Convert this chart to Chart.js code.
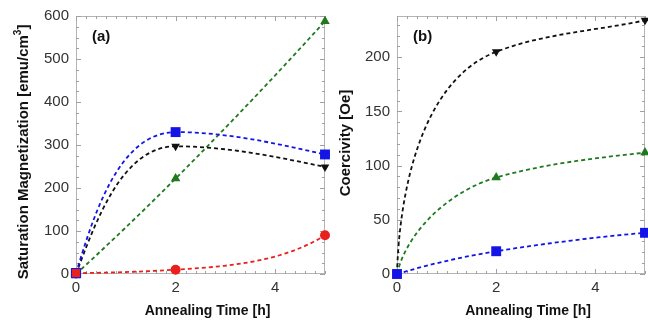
<!DOCTYPE html>
<html><head><meta charset="utf-8">
<script src="https://cdn.jsdelivr.net/npm/chart.js@4"></script>
<style>
html,body{margin:0;padding:0;background:#fff;}
#wrap{position:relative;width:648px;height:325px;overflow:hidden;}
.box{position:absolute;top:0;}
</style></head><body>
<div id="wrap">
<div class="box" style="left:0;width:330px;height:325px"><canvas id="c1" width="330" height="325"></canvas></div>
<div class="box" style="left:330px;width:318px;height:325px"><canvas id="c2" width="318" height="325"></canvas></div>
</div>
<script>
// ---- data ----
const times = [0, 2, 5];
// (a) saturation magnetization [emu/cm3]
const msRed = [2, 10, 90];
const msBlue = [2, 330, 278];
const msBlack = [0, 297, 249];
const msGreen = [0, 222, 588];
// (b) coercivity [Oe]
const hcBlue = [0, 21, 38];
const hcGreen = [0, 89, 112];
const hcBlack = [0, 205, 234];
// tick labels
const xTicks = [0, 2, 4];
const yTicksA = [0, 100, 200, 300, 400, 500, 600];
const yTicksB = [0, 50, 100, 150, 200];
// titles
const xTitle = 'Annealing Time [h]';
const yTitleA = ['Saturation Magnetization [emu/cm', '3', ']'];
const yTitleB = ['Coercivity [Oe]'];

const FONT = "'Liberation Sans', Arial, sans-serif";
const BLUE = '#1414e6', RED = '#e8201e', GREEN = '#1f7a1f', BLACK = '#111111';

function pts(ys){ return times.map((t,i)=>({x:t, y:ys[i]})); }
// bendStart / bendEnd: curvature style of the smoothed line at its ends
function ds(ys, color, style, radius, rot, bendStart, bendEnd){
  return {
    data: pts(ys), borderColor: color, backgroundColor: color,
    borderWidth: 1.8, borderDash: [4,3], tension: 0.4,
    pointStyle: style, pointRadius: radius, pointHoverRadius: radius,
    pointRotation: rot, pointBorderWidth: 0, pointBorderColor: color,
    clip: false, bendStart, bendEnd
  };
}

// smooth curve: bezier handles computed from the plotted points (pixel space)
const smoothCurves = {
  id: 'smoothCurves',
  beforeDatasetDraw(chart, args){
    const meta = args.meta, line = meta.dataset;
    if (!line) return;
    const dset = chart.data.datasets[args.index];
    line.updateControlPoints(chart.chartArea, meta.iScale.axis);
    const p = meta.data, n = p.length;
    if (n < 3) return;
    const slope = [], ang = [];
    for (let i=0;i<n-1;i++){
      const dx = p[i+1].x - p[i].x, dy = p[i].y - p[i+1].y;
      slope[i] = dy/dx; ang[i] = Math.atan2(dy, dx);
    }
    const th = new Array(n);
    for (let i=1;i<n-1;i++){
      const a = slope[i-1], b = slope[i];
      th[i] = (a*b <= 0) ? 0 : Math.atan(2*a*b/(a+b));
    }
    const clamp = (v, c) => c >= 0 ? Math.min(Math.max(v, 0), Math.PI/2) : Math.max(Math.min(v, 0), -Math.PI/2);
    const ks = dset.bendStart ?? 1, ke = dset.bendEnd ?? 1;
    th[0] = clamp(ang[0] + ks*(ang[0] - th[1]), ang[0]);
    th[n-1] = clamp(ang[n-2] + ke*(ang[n-2] - th[n-2]), ang[n-2]);
    for (let i=0;i<n-1;i++){
      const L = Math.hypot(p[i+1].x - p[i].x, p[i+1].y - p[i].y)/3;
      p[i].cp2x = p[i].x + L*Math.cos(th[i]);
      p[i].cp2y = p[i].y - L*Math.sin(th[i]);
      p[i+1].cp1x = p[i+1].x - L*Math.cos(th[i+1]);
      p[i+1].cp1y = p[i+1].y + L*Math.sin(th[i+1]);
    }
    line._path = undefined;
  }
};

function frameTicks(cfg){
  return {
    id: 'frameTicks',
    beforeDatasetsDraw(chart){
      const {ctx, chartArea:a, scales:{x, y}} = chart;
      ctx.save();
      ctx.strokeStyle = '#b4b4b4'; ctx.lineWidth = 1;
      ctx.strokeRect(Math.round(a.left)+0.5, Math.round(a.top)+0.5,
        Math.round(a.right-a.left)-1, Math.round(a.bottom-a.top)-1);
      ctx.strokeStyle = '#a0a0a0';
      ctx.beginPath();
      const nx = Math.round((x.max - x.min)/cfg.xMinor);
      for (let i=0;i<=nx;i++){
        const v = x.min + i*cfg.xMinor;
        const major = Math.abs(v/cfg.xMajor - Math.round(v/cfg.xMajor)) < 1e-6;
        const L = major ? 5 : 3;
        const px = Math.round(x.getPixelForValue(v))+0.5;
        ctx.moveTo(px, a.bottom); ctx.lineTo(px, a.bottom-L);
        ctx.moveTo(px, a.top); ctx.lineTo(px, a.top+L);
      }
      const ny = Math.floor((y.max - y.min)/cfg.yMinor + 1e-6);
      for (let i=0;i<=ny;i++){
        const v = y.min + i*cfg.yMinor;
        const major = Math.abs(v/cfg.yMajor - Math.round(v/cfg.yMajor)) < 1e-6;
        const L = major ? 5 : 3;
        const py = Math.round(y.getPixelForValue(v))+0.5;
        ctx.moveTo(a.left, py); ctx.lineTo(a.left+L, py);
        ctx.moveTo(a.right, py); ctx.lineTo(a.right-L, py);
      }
      ctx.stroke();
      ctx.restore();
    },
    afterDraw(chart){
      const {ctx, chartArea:a} = chart;
      ctx.save();
      ctx.fillStyle = '#111';
      // panel label
      ctx.font = 'bold 15px ' + FONT;
      ctx.textBaseline = 'middle';
      ctx.textAlign = 'left';
      ctx.fillText(cfg.label, a.left + 16, a.top + 21);
      // x title
      ctx.font = 'bold 14px ' + FONT;
      ctx.textAlign = 'center';
      ctx.fillText(xTitle, (a.left + a.right)/2 + 7, 311);
      // y title (rotated, with optional superscript)
      const big = 'bold 15px ' + FONT, small = 'bold 10px ' + FONT;
      const parts = cfg.yTitle;
      const widths = parts.map((t,i) => { ctx.font = (i === 1 ? small : big); return ctx.measureText(t).width; });
      const total = widths.reduce((s,w)=>s+w, 0);
      ctx.translate(cfg.yTitleX, (a.top + a.bottom)/2 + cfg.yTitleShift);
      ctx.rotate(-Math.PI/2);
      ctx.textAlign = 'left';
      let xx = -total/2;
      parts.forEach((t,i) => {
        ctx.font = (i === 1 ? small : big);
        ctx.fillText(t, xx, i === 1 ? -6 : 0);
        xx += widths[i];
      });
      ctx.restore();
    }
  };
}

function makeChart(id, datasets, yMax, yTicks, yWidth, padRight, cfg){
  return new Chart(document.getElementById(id), {
    type: 'line',
    data: { datasets },
    options: {
      responsive: false, animation: false, devicePixelRatio: 1,
      layout: { autoPadding: false, padding: { top: 14, right: padRight, left: 0, bottom: 0 } },
      plugins: { legend: { display: false }, tooltip: { enabled: false } },
      scales: {
        x: {
          type: 'linear', min: 0, max: 5,
          grid: { display: false, drawTicks: false },
          border: { display: false },
          afterBuildTicks: s => { s.ticks = xTicks.map(v => ({ value: v })); },
          afterFit: s => { s.height = 51; },
          ticks: { font: { family: FONT, size: 15 }, color: '#333', padding: 5 },
          title: { display: false }
        },
        y: {
          type: 'linear', min: 0, max: yMax,
          grid: { display: false, drawTicks: false },
          border: { display: false },
          afterBuildTicks: s => { s.ticks = yTicks.map(v => ({ value: v })); },
          afterFit: s => { s.width = yWidth; },
          ticks: { font: { family: FONT, size: 15 }, color: '#333', padding: 7 },
          title: { display: false }
        }
      }
    },
    plugins: [smoothCurves, frameTicks(cfg)]
  });
}

const redSet = ds(msRed, RED, ['rect','circle','circle'], [6.5,5,5], 0, 1, 2);
redSet.pointBorderWidth = [1, 0, 0];
redSet.pointBorderColor = [BLUE, RED, RED];

makeChart('c1', [
  redSet,
  ds(msBlue, BLUE, 'rect', 7, 0, 0.33, 0.5),
  ds(msBlack, BLACK, 'triangle', 5, 180, 0.33, 0.5),
  ds(msGreen, GREEN, 'triangle', 5.5, 0, 1, 1)
], 600, yTicksA, 76, 5,
  { xMajor: 2, xMinor: 0.2, yMajor: 100, yMinor: 25, label: '(a)', yTitle: yTitleA, yTitleX: 24, yTitleShift: 7 });

makeChart('c2', [
  ds(hcBlue, BLUE, 'rect', 7, 0, 1, 1),
  ds(hcGreen, GREEN, 'triangle', 5.5, 0, 1.15, 0.5),
  ds(hcBlack, BLACK, 'triangle', 5, 180, 0.5, 0)
], 238, yTicksB, 67, 3,
  { xMajor: 2, xMinor: 0.2, yMajor: 50, yMinor: 10, label: '(b)', yTitle: yTitleB, yTitleX: 16, yTitleShift: -2 });
</script>
</body></html>
